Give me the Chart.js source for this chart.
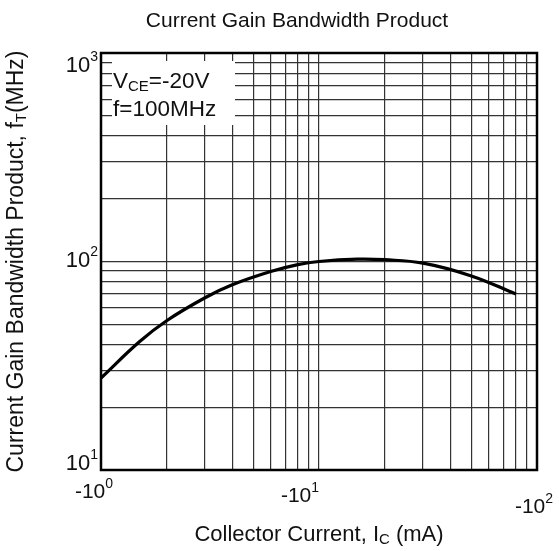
<!DOCTYPE html>
<html>
<head>
<meta charset="utf-8">
<script src="https://cdn.jsdelivr.net/npm/chart.js@4/dist/chart.umd.min.js"></script>
<style>
  html, body { margin: 0; padding: 0; background: #fff; }
  canvas { display: block; }
</style>
</head>
<body>
<canvas id="chart" width="559" height="551"></canvas>
<script>
// collector current (mA, magnitude) and fT (MHz)
const IC_VALUES = [1, 1.5, 2, 3, 4, 6, 8, 10, 15, 20, 30, 50, 80];
const FT_VALUES = [27.6, 41.2, 52, 67, 77.3, 89.5, 96.6, 100, 102.6, 102, 98.2, 85.3, 69.8];

const X_GRID = [1, 2, 3, 4, 5, 6, 7, 8, 9, 10, 20, 30, 40, 50, 60, 70, 80, 90, 100];
const Y_GRID = [10, 20, 30, 40, 50, 60, 70, 80, 90, 100, 200, 300, 400, 500, 600, 700, 800, 900, 1000];

const X_LABELS = [1, 10, 100];
const X_LABEL_EXP = ['0', '1', '2'];
const Y_LABELS = [10, 100, 1000];
const Y_LABEL_EXP = ['1', '2', '3'];

const FONT = '"Liberation Sans", Arial, Helvetica, sans-serif';
const TEXT = '#111';

// label nudges (pixels) to follow the original sheet
const X_LABEL_DX = [-7, -19, -3];
const X_LABEL_DY = [28, 32, 43];
const Y_LABEL_DY = [0, 5, 19];

function font(size) { return size + 'px ' + FONT; }

// parts: [{t, size, dy}] drawn on one baseline
function drawParts(ctx, parts, x, y, align) {
  let w = 0;
  parts.forEach(p => { ctx.font = font(p.size); w += ctx.measureText(p.t).width; });
  let cx = align === 'right' ? x - w : align === 'center' ? x - w / 2 : x;
  ctx.textAlign = 'left';
  ctx.textBaseline = 'alphabetic';
  parts.forEach(p => {
    ctx.font = font(p.size);
    ctx.fillText(p.t, cx, y + (p.dy || 0));
    cx += ctx.measureText(p.t).width;
  });
}

const decor = {
  id: 'decor',
  beforeDatasetsDraw(chart) {
    const { ctx } = chart;
    const xs = chart.scales.x, ys = chart.scales.y;
    // condition box on top of the grid
    const bx = xs.getPixelForValue(1) + 11;
    ctx.save();
    ctx.fillStyle = '#fff';
    ctx.fillRect(bx, ys.top + 8, 123, 64);
    ctx.fillStyle = TEXT;
    drawParts(ctx, [
      { t: 'V', size: 22.5 },
      { t: 'CE', size: 15, dy: 3 },
      { t: '=-20V', size: 22.5 }
    ], bx + 1, ys.top + 35, 'left');
    drawParts(ctx, [{ t: 'f=100MHz', size: 22.5 }], bx + 1, ys.top + 63, 'left');
    ctx.restore();
  },
  afterDraw(chart) {
    const { ctx, chartArea: a } = chart;
    const xs = chart.scales.x, ys = chart.scales.y;
    ctx.save();
    ctx.strokeStyle = '#000';
    ctx.lineWidth = 2.5;
    ctx.strokeRect(a.left, a.top, a.right - a.left, a.bottom - a.top);

    ctx.fillStyle = TEXT;
    X_LABELS.forEach((v, i) => {
      const px = xs.getPixelForValue(v);
      drawParts(ctx, [
        { t: '-10', size: 21 },
        { t: X_LABEL_EXP[i], size: 14, dy: -10 }
      ], px + X_LABEL_DX[i], a.bottom + X_LABEL_DY[i], 'center');
    });
    Y_LABELS.forEach((v, i) => {
      const py = ys.getPixelForValue(v);
      drawParts(ctx, [
        { t: '10', size: 22 },
        { t: Y_LABEL_EXP[i], size: 14, dy: -11 }
      ], a.left - 3, py + Y_LABEL_DY[i], 'right');
    });

    // title
    drawParts(ctx, [{ t: 'Current Gain Bandwidth Product', size: 21 }], 297, 27, 'center');
    // x axis title
    drawParts(ctx, [
      { t: 'Collector Current, I', size: 22 },
      { t: 'C', size: 15, dy: 3 },
      { t: ' (mA)', size: 22 }
    ], (a.left + a.right) / 2, 541, 'center');
    // y axis title
    ctx.translate(23, (a.top + a.bottom) / 2);
    ctx.rotate(-Math.PI / 2);
    drawParts(ctx, [
      { t: 'Current Gain Bandwidth Product, f', size: 23 },
      { t: 'T', size: 15, dy: 3 },
      { t: '(MHz)', size: 23 }
    ], 0, 0, 'center');
    ctx.restore();
  }
};

new Chart(document.getElementById('chart'), {
  type: 'line',
  data: {
    datasets: [{
      data: IC_VALUES.map((x, i) => ({ x, y: FT_VALUES[i] })),
      borderColor: '#000',
      borderWidth: 3.2,
      pointRadius: 0,
      tension: 0.4,
      fill: false
    }]
  },
  options: {
    responsive: false,
    animation: false,
    layout: { padding: { left: 101, top: 53, right: 22, bottom: 81 } },
    plugins: { legend: { display: false }, tooltip: { enabled: false } },
    scales: {
      x: {
        type: 'logarithmic',
        min: 1,
        max: 100,
        afterBuildTicks: s => { s.ticks = X_GRID.map(value => ({ value })); },
        ticks: { display: false },
        grid: { color: '#333', lineWidth: 1.2, drawTicks: false },
        border: { display: false }
      },
      y: {
        type: 'logarithmic',
        min: 10,
        max: 1000,
        afterBuildTicks: s => { s.ticks = Y_GRID.map(value => ({ value })); },
        ticks: { display: false },
        grid: { color: '#333', lineWidth: 1.2, drawTicks: false },
        border: { display: false }
      }
    }
  },
  plugins: [decor]
});
</script>
</body>
</html>
